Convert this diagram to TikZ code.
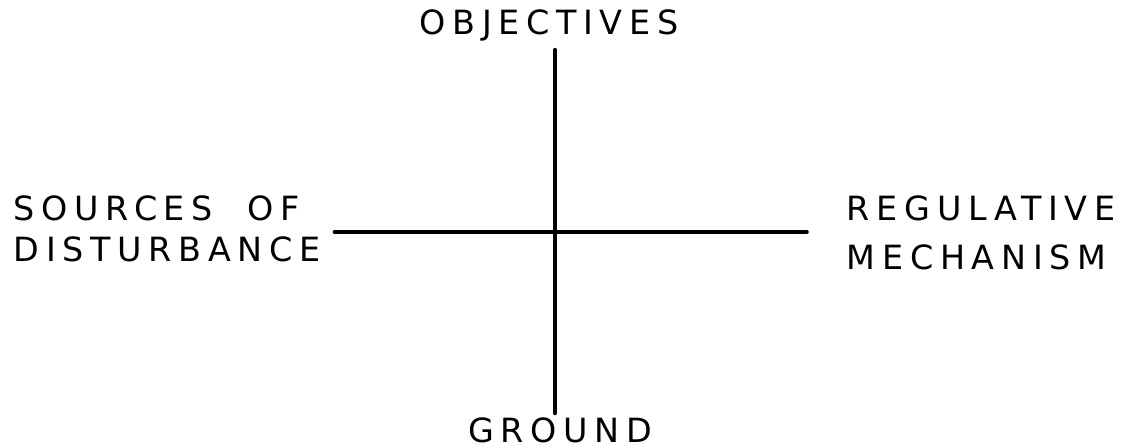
\documentclass[tikz,border=0pt]{standalone}
\usepackage{fontspec}
\setmainfont{DejaVu Sans}[LetterSpace=20]
\usepackage{tikz}
\usetikzlibrary{positioning,calc}
\tikzset{
  capslbl/.style={font=\fontsize{19}{23}\selectfont, inner sep=2pt},
  crossln/.style={line width=2pt, line cap=round},
}

\begin{document}
\begin{tikzpicture}[x=0.02cm, y=-0.02cm]
  \useasboundingbox (0,0) rectangle (1135,448);
  % --- the four labels ---
  \coordinate (ctr) at (555,232);
  \node[capslbl] (obj) at (549,25) {OBJECTIVES};
  \node[capslbl] (grd) at (560,430) {GROUND};
  \node[capslbl, anchor=west, align=left] (src) at (10,229) {SOURCES\ \ OF\\DISTURBANCE};
  \node[capslbl, font=\fontsize{19}{28}\selectfont, anchor=west, align=left] (reg) at (843,233) {REGULATIVE\\MECHANISM};
  % --- the cross ---
  \draw[crossln] ($(ctr |- obj.south)+(0,5)$) -- (ctr |- grd.north);
  \draw[crossln] ($(src.east |- ctr)+(10,0)$) -- ($(reg.west |- ctr)+(-36,0)$);
\end{tikzpicture}
\end{document}
